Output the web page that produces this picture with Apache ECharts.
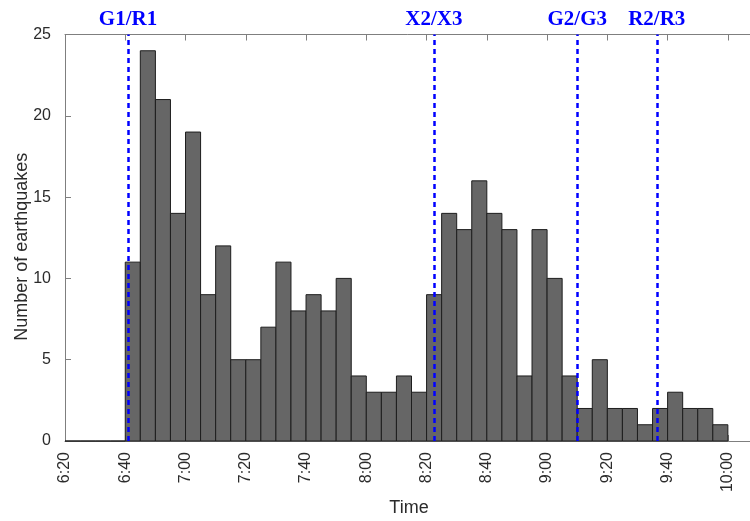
<!DOCTYPE html>
<html>
<head>
<meta charset="utf-8">
<script src="https://cdn.jsdelivr.net/npm/echarts@6/dist/echarts.min.js"></script>
<style>
    html, body { margin: 0; padding: 0; background: #fff; }
    .box-con { width: 750px; height: 521px; }
</style>
</head>
<body>
<div class="box-con"></div>
<script>
// 5-minute bins, start time of each bin
var binStarts = ['6:20','6:25','6:30','6:35','6:40','6:45','6:50','6:55',
    '7:00','7:05','7:10','7:15','7:20','7:25','7:30','7:35','7:40','7:45','7:50','7:55',
    '8:00','8:05','8:10','8:15','8:20','8:25','8:30','8:35','8:40','8:45','8:50','8:55',
    '9:00','9:05','9:10','9:15','9:20','9:25','9:30','9:35','9:40','9:45','9:50','9:55'];
var counts = [0,0,0,0,11,24,21,14,
    19,9,12,5,5,7,11,8,9,8,10,4,
    3,3,4,3,9,14,13,16,14,13,4,13,
    10,4,2,5,2,2,1,2,3,2,2,1];
var binWidth = 5;

var tickLabels = ['6:20','6:40','7:00','7:20','7:40','8:00','8:20','8:40','9:00','9:20','9:40','10:00'];
var yTicks = [0,5,10,15,20,25];

var eventLabels = ['G1/R1','X2/X3','G2/G3','R2/R3'];
var eventTimes = ['6:40:54','8:22:27','9:10:00','9:36:24'];

function toMin(s){
    var p = s.split(':');
    return (+p[0])*60 + (+p[1]) + (p[2] ? (+p[2])/60 : 0);
}

window.onload = function(){
    var myChart = echarts.init(document.querySelector('.box-con'));
    var xMin = toMin(tickLabels[0]);
    var labelOf = {};
    tickLabels.forEach(function(t){ labelOf[toMin(t)] = t; });

    var barData = binStarts.map(function(t, i){
        return [toMin(t), toMin(t) + binWidth, counts[i]];
    });

    var axisGray = '#7f7f7f';
    var txt = '#2b2b2b';
    var xCommon = {
        type: 'value',
        min: xMin,
        max: xMin + 230,
        interval: 20,
        splitLine: {show: false},
        axisLine: {lineStyle: {color: axisGray, width: 1}},
        axisTick: {inside: true, length: 6, lineStyle: {color: axisGray}}
    };

    var option = {
        animation: false,
        grid: {
            left: 65,
            top: 34.5,
            width: 693,
            height: 406.5,
            containLabel: false,
            outerBoundsMode: 'none'
        },
        xAxis: [
            echarts.util.merge({
                position: 'bottom',
                name: 'Time',
                nameLocation: 'middle',
                nameGap: 58,
                nameMoveOverlap: false,
                nameTextStyle: {fontFamily: 'Liberation Sans', fontSize: 18, color: txt, padding: [0, 5, 0, 0]},
                axisLabel: {
                    rotate: 90,
                    margin: 11,
                    fontFamily: 'Liberation Sans',
                    fontSize: 16,
                    color: txt,
                    showMaxLabel: false,
                    formatter: function(v){ return labelOf[v] || ''; }
                }
            }, xCommon, true),
            echarts.util.merge({
                position: 'top',
                axisLabel: {show: false}
            }, xCommon, true)
        ],
        yAxis: {
            type: 'value',
            min: yTicks[0],
            max: yTicks[yTicks.length - 1],
            interval: yTicks[1] - yTicks[0],
            name: 'Number of earthquakes',
            nameLocation: 'middle',
            nameGap: 34,
            nameMoveOverlap: false,
            nameTextStyle: {fontFamily: 'Liberation Sans', fontSize: 18, color: txt, padding: [0, 18, 0, 0]},
            splitLine: {show: false},
            axisLine: {show: true, lineStyle: {color: axisGray, width: 1}},
            axisTick: {show: true, inside: true, length: 6, lineStyle: {color: axisGray}},
            axisLabel: {
                margin: 14,
                fontFamily: 'Liberation Sans',
                fontSize: 16,
                color: txt
            }
        },
        series: [
            {
                type: 'custom',
                xAxisIndex: 0,
                data: barData,
                encode: {x: [0, 1], y: 2},
                renderItem: function(params, api){
                    var p0 = api.coord([api.value(0), 0]);
                    var p1 = api.coord([api.value(1), api.value(2)]);
                    return {
                        type: 'rect',
                        shape: {x: p0[0], y: p1[1], width: p1[0] - p0[0], height: p0[1] - p1[1]},
                        style: {fill: '#666666', stroke: '#1e1e1e', lineWidth: 1}
                    };
                },
                markLine: {
                    silent: true,
                    symbol: ['none', 'none'],
                    lineStyle: {color: '#0000ff', type: [5, 4], width: 2.5},
                    label: {
                        show: true,
                        position: 'end',
                        distance: 4,
                        formatter: '{b}',
                        fontFamily: 'Liberation Serif',
                        fontWeight: 'bold',
                        fontSize: 21,
                        color: '#0000ff'
                    },
                    data: eventTimes.map(function(t, i){
                        return {xAxis: toMin(t), name: eventLabels[i]};
                    })
                }
            }
        ]
    };
    myChart.setOption(option);
};
</script>
</body>
</html>
